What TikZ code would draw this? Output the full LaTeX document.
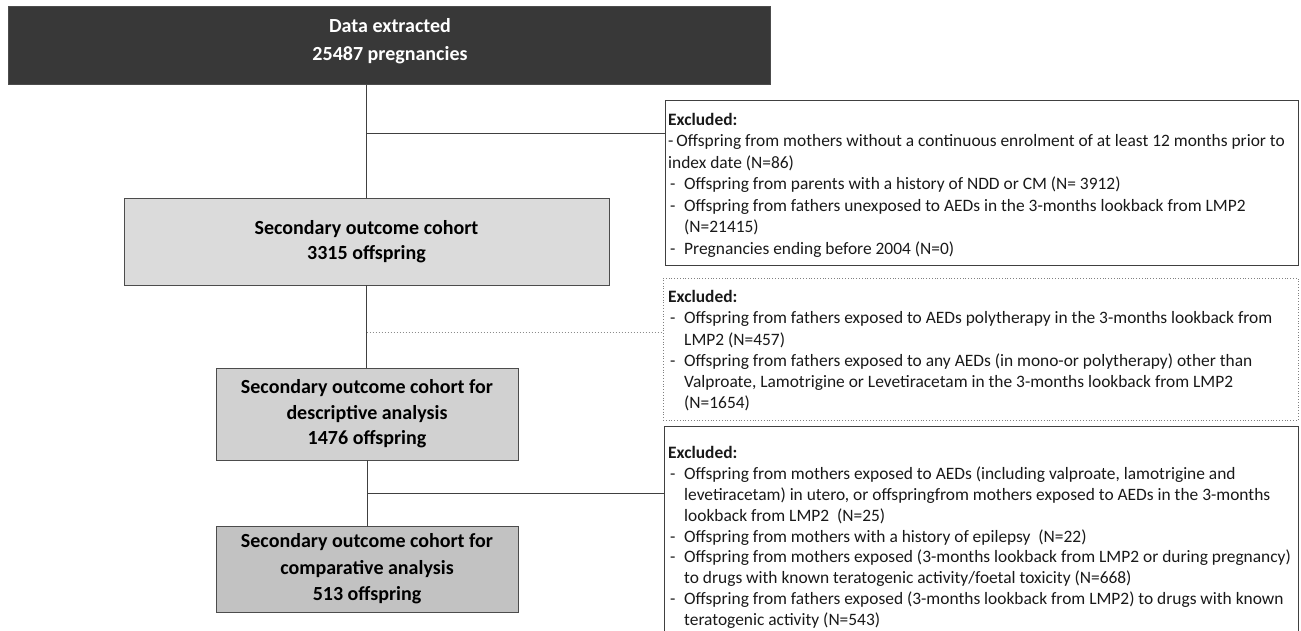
\documentclass[tikz,border=0pt]{standalone}
\usepackage{fontspec}
\setmainfont{Carlito}
\newcommand\exdash{\makebox[16pt][l]{\hspace{2pt}-}}
\newcommand\exind{\hspace*{16pt}}
\begin{document}
\begin{tikzpicture}[x=1pt,y=-1pt,
  cohort/.style={draw=black!70, line width=0.8pt, align=center, inner sep=0pt,
    font=\bfseries\fontsize{20}{25.5}\selectfont},
  exbox/.style={inner sep=0pt},
  extext/.style={anchor=north west, align=left, inner sep=0pt, text=black!90},
  link/.style={draw=black!75, line width=0.8pt}]
\useasboundingbox (0,0) rectangle (1301,631);

% cohort boxes on the left
\node[draw=black!70, line width=0.8pt, fill=black!78, minimum width=762pt, minimum height=78pt, inner sep=0pt]
  (top) at (389,45.5) {};
\node[align=center, inner sep=0pt, text=white, font=\bfseries\fontsize{20}{28}\selectfont]
  (toptext) at (390,41) {Data extracted\\25487 pregnancies};
\node[cohort, fill=black!14, minimum width=485pt, minimum height=87pt]
  (sec) at (366.5,241.5) {Secondary outcome cohort\\3315 offspring};
\node[cohort, fill=black!18, minimum width=302pt, minimum height=92pt]
  (desc) at (367,414) {Secondary outcome cohort for\\descriptive analysis\\1476 offspring};
\node[cohort, fill=black!24, minimum width=302pt, minimum height=86pt, font=\bfseries\fontsize{20}{26.5}\selectfont]
  (comp) at (367,569) {Secondary outcome cohort for\\comparative analysis\\513 offspring};

% exclusion boxes on the right
\node[exbox, draw=black!75, line width=0.8pt, minimum width=633pt, minimum height=165pt]
  (ex1) at (981.5,182.5) {};
\node[exbox, draw=black!50, dotted, line width=0.8pt, minimum width=635pt, minimum height=142pt]
  (ex2) at (980.5,349) {};
\node[exbox, minimum width=633pt, minimum height=206pt]
  (ex3) at (981.5,530) {};
\draw[link] (ex3.south west) -- (ex3.north west) -- (ex3.north east) -- (ex3.south east);

\node[extext, font=\fontsize{17.4}{21.5}\selectfont] (t1) at (668,113) {%
  \textbf{Excluded:}\\
  -\,Offspring from mothers without a continuous enrolment of at least 12 months prior to\\
  index date (N=86)\\
  \exdash Offspring from parents with a history of NDD or CM (N= 3912)\\
  \exdash Offspring from fathers unexposed to AEDs in the 3-months lookback from LMP2\\
  \exind (N=21415)\\
  \exdash Pregnancies ending before 2004 (N=0)};

\node[extext, font=\fontsize{17.4}{21.3}\selectfont] (t2) at (668,290) {%
  \textbf{Excluded:}\\
  \exdash Offspring from fathers exposed to AEDs polytherapy in the 3-months lookback from\\
  \exind LMP2 (N=457)\\
  \exdash Offspring from fathers exposed to any AEDs (in mono-or polytherapy) other than\\
  \exind Valproate, Lamotrigine or Levetiracetam in the 3-months lookback from LMP2\\
  \exind (N=1654)};

\node[extext, font=\fontsize{17.4}{20.9}\selectfont] (t3) at (668,446) {%
  \textbf{Excluded:}\\
  \exdash Offspring from mothers exposed to AEDs (including valproate, lamotrigine and\\
  \exind levetiracetam) in utero, or offspringfrom mothers exposed to AEDs in the 3-months\\
  \exind lookback from LMP2\ \ (N=25)\\
  \exdash Offspring from mothers with a history of epilepsy\ \ (N=22)\\
  \exdash Offspring from mothers exposed (3-months lookback from LMP2 or during pregnancy)\\
  \exind to drugs with known teratogenic activity/foetal toxicity (N=668)\\
  \exdash Offspring from fathers exposed (3-months lookback from LMP2) to drugs with known\\
  \exind teratogenic activity (N=543)};

% connectors
\coordinate (j1) at (sec.north |- 0,133);
\coordinate (j2) at (sec.south |- 0,332);
\coordinate (j3) at (desc.south |- 0,493);
\draw[link] (sec.north |- top.south) -- (sec.north);
\draw[link] (j1) -- (j1 -| ex1.west);
\draw[link] (sec.south) -- (sec.south |- desc.north);
\draw[draw=black!45, dotted, line width=1pt] (j2) -- (j2 -| ex2.west);
\draw[link] (desc.south) -- (desc.south |- comp.north);
\draw[link] (j3) -- (j3 -| ex3.west);
\end{tikzpicture}
\end{document}
